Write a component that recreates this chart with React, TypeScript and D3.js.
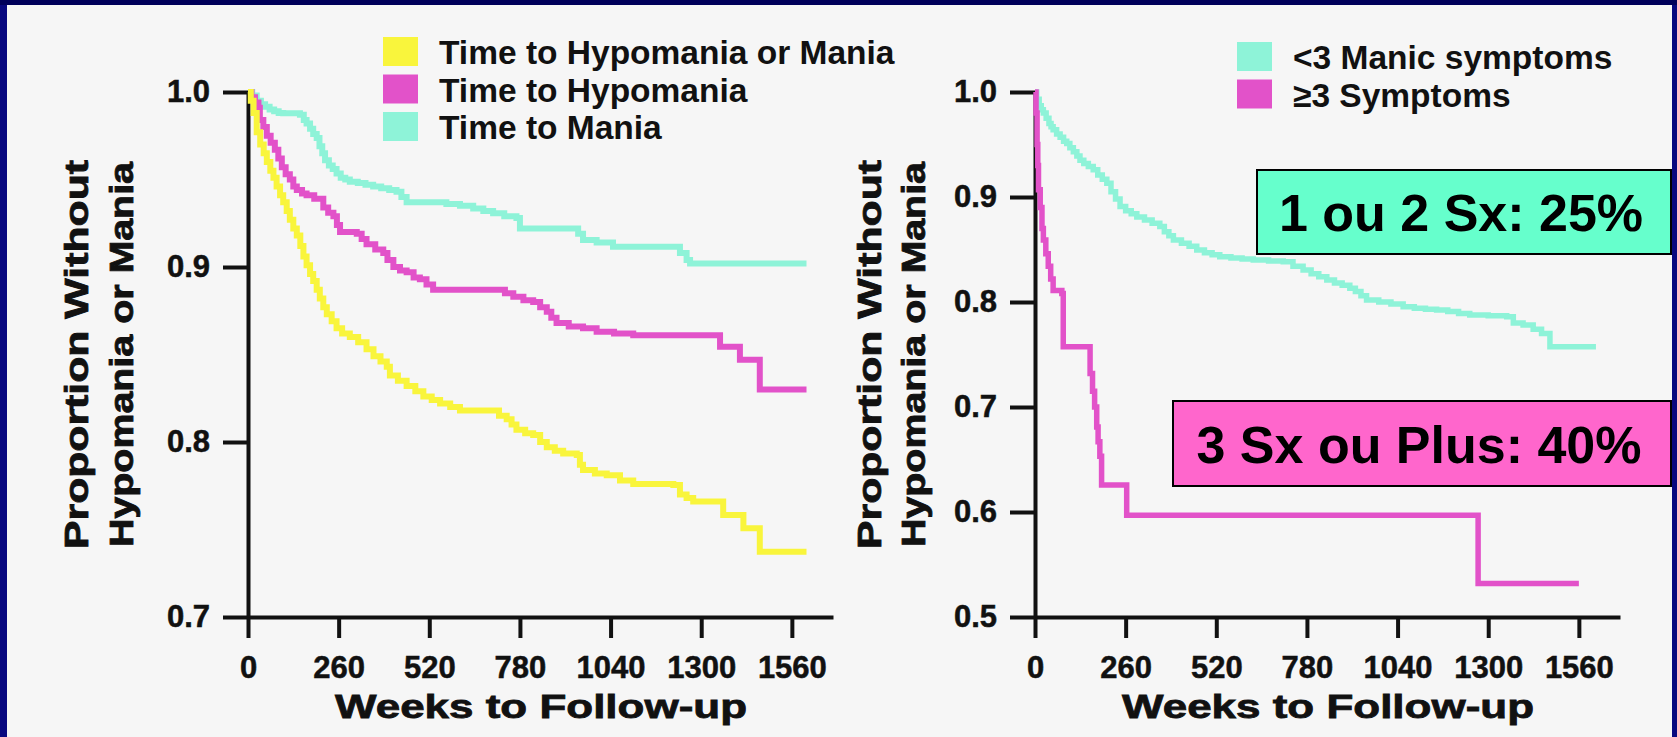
import * as d3 from "d3";
import React, { useEffect, useRef } from "react";

const W = 1677;
const H = 737;

// Kaplan-Meier curves, [weeks, proportion without event]
const hypoOrMania = [
  [0, 1.0], [8, 0.995], [16, 0.988], [25, 0.977], [35, 0.97], [45, 0.965], [54, 0.96], [64, 0.955],
  [73, 0.951], [82, 0.946], [92, 0.941], [101, 0.937], [111, 0.932], [120, 0.927], [130, 0.922],
  [140, 0.918], [150, 0.912], [159, 0.906], [168, 0.901], [178, 0.896], [187, 0.892], [197, 0.887],
  [206, 0.882], [216, 0.877], [226, 0.873], [240, 0.869], [254, 0.865], [270, 0.862], [292, 0.86],
  [316, 0.857], [340, 0.853], [360, 0.849], [380, 0.846], [398, 0.843], [407, 0.838], [430, 0.835],
  [455, 0.832], [480, 0.829], [503, 0.826], [527, 0.824], [551, 0.822], [580, 0.82], [608, 0.818],
  [720, 0.815], [742, 0.813], [756, 0.81], [770, 0.807], [795, 0.805], [818, 0.804], [838, 0.8],
  [857, 0.797], [880, 0.795], [904, 0.7935], [943, 0.7926], [952, 0.787], [961, 0.784], [995, 0.782],
  [1029, 0.781], [1067, 0.778], [1105, 0.776], [1220, 0.7754], [1239, 0.77], [1258, 0.768],
  [1277, 0.766], [1363, 0.7583], [1421, 0.7507], [1468, 0.7373], [1602, 0.7373]
];

const hypomania = [
  [0, 1.0], [10, 0.997], [20, 0.994], [30, 0.991], [34, 0.984], [44, 0.98], [54, 0.975], [65, 0.971],
  [77, 0.967], [87, 0.962], [97, 0.957], [108, 0.953], [120, 0.95], [130, 0.946], [140, 0.944],
  [155, 0.942], [168, 0.941], [190, 0.939], [206, 0.939], [216, 0.934], [230, 0.931], [245, 0.929],
  [255, 0.924], [264, 0.92], [312, 0.919], [326, 0.916], [340, 0.913], [365, 0.91], [388, 0.908],
  [400, 0.904], [417, 0.9], [436, 0.898], [455, 0.897], [475, 0.894], [493, 0.893], [512, 0.89],
  [531, 0.887], [737, 0.885], [761, 0.883], [790, 0.881], [818, 0.88], [838, 0.877], [857, 0.8745],
  [870, 0.871], [885, 0.868], [920, 0.866], [961, 0.865], [1000, 0.863], [1050, 0.862], [1105, 0.861],
  [1354, 0.8545], [1411, 0.847], [1468, 0.83], [1602, 0.83]
];

const mania = [
  [0, 1.0], [12, 0.998], [25, 0.995], [37, 0.993], [49, 0.9916], [62, 0.99], [75, 0.989], [88, 0.988],
  [101, 0.9878], [149, 0.987], [160, 0.984], [168, 0.982], [178, 0.979], [187, 0.976], [197, 0.9737],
  [205, 0.969], [213, 0.965], [221, 0.961], [232, 0.958], [243, 0.956], [254, 0.9535], [266, 0.951],
  [279, 0.95], [292, 0.9487], [315, 0.948], [337, 0.947], [359, 0.946], [382, 0.945], [405, 0.944],
  [426, 0.943], [440, 0.94], [455, 0.937], [569, 0.936], [608, 0.935], [646, 0.9335], [675, 0.932],
  [703, 0.9307], [735, 0.929], [770, 0.928], [780, 0.922], [933, 0.922], [947, 0.919], [961, 0.9154],
  [1000, 0.914], [1047, 0.9116], [1220, 0.9116], [1239, 0.908], [1258, 0.904], [1268, 0.902],
  [1602, 0.902]
];

const fewSymptoms = [
  [0, 1.0], [5, 0.993], [12, 0.987], [18, 0.983], [24, 0.98], [32, 0.975], [40, 0.97], [46, 0.967],
  [52, 0.964], [62, 0.96], [72, 0.957], [82, 0.953], [91, 0.951], [100, 0.947], [110, 0.943],
  [120, 0.939], [129, 0.935], [140, 0.932], [153, 0.929], [167, 0.926], [180, 0.921], [193, 0.917],
  [206, 0.913], [218, 0.905], [231, 0.898], [244, 0.891], [260, 0.887], [276, 0.884], [292, 0.881],
  [314, 0.878], [336, 0.875], [358, 0.872], [371, 0.867], [384, 0.863], [397, 0.859], [420, 0.856],
  [442, 0.853], [464, 0.8495], [486, 0.847], [508, 0.845], [530, 0.843], [562, 0.842], [594, 0.841],
  [626, 0.84], [670, 0.839], [712, 0.8384], [740, 0.834], [769, 0.8305], [792, 0.827], [814, 0.824],
  [837, 0.821], [859, 0.818], [881, 0.816], [903, 0.813], [919, 0.81], [935, 0.806], [951, 0.802],
  [986, 0.8], [1021, 0.798], [1056, 0.7955], [1088, 0.794], [1120, 0.793], [1152, 0.7924],
  [1184, 0.791], [1215, 0.789], [1247, 0.7876], [1300, 0.787], [1353, 0.786], [1372, 0.78],
  [1400, 0.778], [1429, 0.774], [1453, 0.77], [1477, 0.7575], [1609, 0.7575]
];

const manySymptoms = [
  [0, 1.0], [3, 0.98], [6, 0.95], [8, 0.93], [10, 0.907], [15, 0.89], [20, 0.87], [24, 0.859],
  [31, 0.846], [38, 0.834], [45, 0.822], [52, 0.811], [77, 0.808], [81, 0.7575], [153, 0.7575],
  [158, 0.732], [165, 0.715], [171, 0.7], [177, 0.681], [181, 0.667], [186, 0.653], [191, 0.6257],
  [263, 0.597], [1271, 0.532], [1560, 0.532]
];

const weekTicks = [0, 260, 520, 780, 1040, 1300, 1560];
const leftYTicks = [1.0, 0.9, 0.8, 0.7];
const rightYTicks = [1.0, 0.9, 0.8, 0.7, 0.6, 0.5];

const leftLegend = ["Time to Hypomania or Mania", "Time to Hypomania", "Time to Mania"];
const rightLegend = ["<3 Manic symptoms", "\u22653 Symptoms"];
const boxLabels = ["1 ou 2 Sx: 25%", "3 Sx ou Plus: 40%"];

const yellow = "#f9f53c";
const magenta = "#e252c9";
const aqua = "#8ef3d8";
const FONT = "'Liberation Sans', Arial, Helvetica, sans-serif";

const App = () => {
  const ref = useRef(null);

  useEffect(() => {
    document.body.style.margin = "0";
    document.body.style.overflow = "hidden";

    const svg = d3.select(ref.current);
    svg.selectAll("*").remove();

    // frame
    svg.append("rect").attr("width", W).attr("height", H).attr("fill", "#08087f");
    svg.append("rect").attr("width", W).attr("height", 5).attr("fill", "#00005a");
    svg.append("rect").attr("x", 7).attr("y", 5).attr("width", 1665).attr("height", H - 5).attr("fill", "#f6f6f6");

    const drawPanel = (ox, yDomain, yTicks, series, strokeW, titleOffsets) => {
      const x = d3.scaleLinear().domain([0, 1678]).range([ox, ox + 585]);
      const y = d3.scaleLinear().domain(yDomain).range([617, 92]);

      const xAxis = svg.append("g")
        .attr("transform", `translate(0,${y(yDomain[0])})`)
        .call(d3.axisBottom(x).tickValues(weekTicks).tickSize(21).tickSizeOuter(0).tickPadding(18).tickFormat(d3.format("d")));

      const yAxis = svg.append("g")
        .attr("transform", `translate(${ox},0)`)
        .call(d3.axisLeft(y).tickValues(yTicks).tickSize(25).tickSizeOuter(0).tickPadding(13).tickFormat(d3.format(".1f")));

      [xAxis, yAxis].forEach((a) => {
        a.attr("font-size", 31).attr("font-family", FONT).attr("font-weight", "bold");
        a.selectAll("line, path").attr("stroke", "#111").attr("stroke-width", 4);
        a.selectAll("text").attr("fill", "#111").attr("stroke", "#111").attr("stroke-width", 0.5);
      });

      const line = d3.line()
        .x((d) => x(d[0]))
        .y((d) => y(d[1]))
        .curve(d3.curveStepAfter);

      series.forEach((s) => {
        svg.append("path")
          .attr("d", line(s.data))
          .attr("fill", "none")
          .attr("stroke", s.color)
          .attr("stroke-width", strokeW);
      });

      // y title, two rotated lines
      const midY = (y.range()[0] + y.range()[1]) / 2;
      [["Proportion Without", ox - titleOffsets[0], 389], ["Hypomania or Mania", ox - titleOffsets[1], 385]].forEach(([t, bx, len]) => {
        svg.append("text")
          .attr("transform", `translate(${bx},${midY}) rotate(-90)`)
          .attr("text-anchor", "middle")
          .attr("font-family", FONT)
          .attr("font-weight", "bold")
          .attr("font-size", 33)
          .attr("textLength", len)
          .attr("lengthAdjust", "spacingAndGlyphs")
          .attr("fill", "#111")
          .attr("stroke", "#111")
          .attr("stroke-width", 0.8)
          .text(t);
      });

      // x title
      svg.append("text")
        .attr("x", ox + 293)
        .attr("y", 718)
        .attr("text-anchor", "middle")
        .attr("font-family", FONT)
        .attr("font-weight", "bold")
        .attr("font-size", 34)
        .attr("textLength", 412)
        .attr("lengthAdjust", "spacingAndGlyphs")
        .attr("fill", "#111")
        .attr("stroke", "#111")
        .attr("stroke-width", 0.8)
        .text("Weeks to Follow-up");
    };

    drawPanel(248, [0.7, 1.0], leftYTicks, [
      { data: mania, color: aqua },
      { data: hypomania, color: magenta },
      { data: hypoOrMania, color: yellow }
    ], 6, [160, 115]);

    drawPanel(1035, [0.5, 1.0], rightYTicks, [
      { data: fewSymptoms, color: aqua },
      { data: manySymptoms, color: magenta }
    ], 5.5, [154, 110]);

    // legends
    const drawLegend = (lx, ly, labels, colors) => {
      const g = svg.append("g").attr("transform", `translate(${lx},${ly})`);
      const items = g.selectAll(".legend-item")
        .data(labels)
        .enter()
        .append("g")
        .attr("class", "legend-item")
        .attr("transform", (d, i) => `translate(0,${i * 37.5})`);
      items.append("rect")
        .attr("width", 35)
        .attr("height", 29)
        .attr("fill", (d, i) => colors[i]);
      items.append("text")
        .attr("x", 56)
        .attr("y", 27)
        .attr("font-family", FONT)
        .attr("font-weight", "bold")
        .attr("font-size", 33.5)
        .attr("fill", "#111")
        .text((d) => d);
    };
    drawLegend(383, 37, leftLegend, [yellow, magenta, aqua]);
    drawLegend(1237, 42, rightLegend, [aqua, magenta]);

    // annotation boxes
    const boxes = [
      { x: 1257, y: 170, w: 414, h: 84, fill: "#66ffcc", label: boxLabels[0] },
      { x: 1173, y: 401, w: 498, h: 85, fill: "#ff66cc", label: boxLabels[1] }
    ];
    boxes.forEach((b) => {
      svg.append("rect")
        .attr("x", b.x).attr("y", b.y).attr("width", b.w).attr("height", b.h)
        .attr("fill", b.fill).attr("stroke", "#000").attr("stroke-width", 2);
      svg.append("text")
        .attr("x", b.x + b.w / 2 - 3)
        .attr("y", b.y + b.h / 2 + 19)
        .attr("text-anchor", "middle")
        .attr("font-family", FONT)
        .attr("font-weight", "bold")
        .attr("font-size", 52)
        .attr("fill", "#000")
        .text(b.label);
    });
  }, []);

  return (
    <svg ref={ref} width={W} height={H} style={{ position: "absolute", left: 0, top: 0, display: "block" }} />
  );
};

export default App;
